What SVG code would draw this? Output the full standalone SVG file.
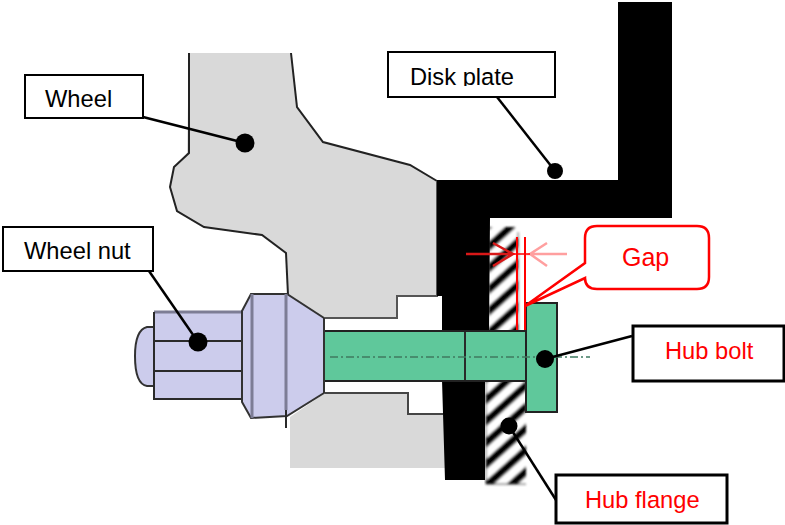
<svg xmlns="http://www.w3.org/2000/svg" width="785" height="525" viewBox="0 0 785 525">
<style>
.box{fill:#fff;stroke:#000;stroke-width:2}
.boxb{fill:#fff;stroke:#000;stroke-width:3}
.t{font-family:"Liberation Sans",Arial,sans-serif;font-size:23.7px;fill:#000}
.r{fill:#f00}
.wh{fill:#d9d9d9;stroke:none}
.ol{fill:none;stroke:#222;stroke-width:2}
.nut{fill:#ccccec;stroke:#333;stroke-width:2}
.g{stroke:#7d7d95;stroke-width:3;fill:none}
.ln{stroke:#2a2a2a;stroke-width:2;fill:none}
.bolt{fill:#5fc89b;stroke:#222;stroke-width:2}
.lead{fill:none;stroke:#000;stroke-width:2.5}
.dot{fill:#000}
</style>
<defs>
<pattern id="hatch" width="16" height="16" patternUnits="userSpaceOnUse" patternTransform="rotate(-42 500 265)">
<rect width="16" height="16" fill="#fff"/>
<rect width="16" height="7.5" fill="#000"/>
</pattern>
<filter id="soft" x="-5%" y="-5%" width="110%" height="110%"><feGaussianBlur stdDeviation="0.5"/></filter>
<filter id="softer" x="-5%" y="-5%" width="110%" height="110%"><feGaussianBlur stdDeviation="0.9"/></filter>
<clipPath id="diskclip"><rect x="400" y="55" width="150" height="31"/></clipPath>
</defs>

<g id="wheel" filter="url(#soft)">
<path class="wh" d="M189,53H291L297,107L323,142L410,165L437,181V296H397V318H325L288,295L286,253L262,235L204,227L177,211L170,187L174,167L187,153Z"/>
<path class="ol" d="M189,53V153L174,167L170,187L177,211L204,227L262,235L286,253L288,295"/>
<path class="ol" d="M291,53L297,107L323,142L410,165L437,181"/>
<path class="wh" d="M325,393H408V414H445V468H290V417Z"/>
<path d="M437,181V296H397V318H325" fill="none" stroke="#555" stroke-width="2"/>
<path d="M325,393H408V414H443" fill="none" stroke="#444" stroke-width="2"/>
</g>

<g id="hub-flange" filter="url(#softer)">
<path d="M489,227H515L518,232V332H489Z" fill="url(#hatch)"/>
<path d="M486,380H526V484H486Z" fill="url(#hatch)"/>
<path d="M518,232V332M486,380V484H526" fill="none" stroke="#333" stroke-width="1"/>
</g>

<g id="disk-plate" filter="url(#soft)">
<path d="M437,180H618V2H672V218H490L489,332H485V480H445L442,380V296H437Z" fill="#000"/>
</g>

<g id="hub-bolt" filter="url(#soft)">
<rect class="bolt" x="324" y="331" width="203" height="50"/>
<rect class="bolt" x="526" y="303" width="31" height="109"/>
<path class="ln" d="M465,332V380"/>
<path d="M330,357H590" stroke="#3f7a60" stroke-width="1.5" stroke-dasharray="8 3 2 3" fill="none"/>
</g>

<g id="wheel-nut" filter="url(#soft)">
<path class="nut" d="M154,327H147Q135,330 135,356Q135,384 147,386H154Z"/>
<rect x="154" y="312" width="88" height="87" fill="#ccccec"/>
<path class="g" d="M154,312H242"/>
<path class="ln" d="M154,312V399H242V312M154,341H242M154,371H242"/>
<path class="nut" d="M242,311L251,294H287L324,318V393L287,416L251,418L242,402Z"/>
<path class="g" d="M252,294V418M286,294V410"/>
<path class="ln" d="M286,410V428"/>
</g>

<g id="gap-marker">
<path d="M517,237V330M525,237V330" fill="none" stroke="#f00" stroke-width="2"/>
<path d="M466,254H513M493,243L513,254L493,266" fill="none" stroke="#d81818" stroke-width="2.5"/>
<path d="M567,254H530L547,243M530,254L547,266" fill="none" stroke="#ff9f9f" stroke-width="2.5"/>
<path d="M513,254H530" fill="none" stroke="#f00" stroke-width="1.5"/>
<path d="M597,226H697Q709,226 709,238V277Q709,289 697,289H597Q585,289 585,278L525,306L585,263V238Q585,226 597,226Z" fill="#fff" stroke="#f00" stroke-width="2.5"/>
<text class="t r" x="622" y="266" style="font-size:25px">Gap</text>
</g>

<g id="connectors">
<path class="lead" d="M143,117L245,143" stroke-width="2"/>
<path class="lead" d="M149,271L198,342"/>
<path class="lead" d="M497,97L555,171"/>
<path class="lead" d="M632,336L545,359"/>
<path class="lead" d="M556,500L509,426"/>
<circle class="dot" cx="245" cy="143" r="9.5"/>
<circle class="dot" cx="198" cy="342" r="9.5"/>
<circle class="dot" cx="555" cy="171" r="8"/>
<circle class="dot" cx="545" cy="359" r="9"/>
<circle class="dot" cx="509" cy="426" r="8.5"/>
</g>

<g id="label-wheel">
<rect class="box" x="25" y="75" width="118" height="43"/>
<text class="t" x="45" y="107">Wheel</text>
</g>
<g id="label-wheel-nut">
<rect class="box" x="3" y="227" width="150" height="44"/>
<text class="t" x="24" y="259">Wheel nut</text>
</g>
<g id="label-disk-plate">
<rect class="box" x="388" y="52" width="167" height="45"/>
<text class="t" x="410" y="85" clip-path="url(#diskclip)">Disk plate</text>
</g>
<g id="label-hub-bolt">
<rect class="boxb" x="633" y="326" width="151" height="55"/>
<text class="t r" x="665" y="359">Hub bolt</text>
</g>
<g id="label-hub-flange">
<rect class="boxb" x="556" y="475" width="171" height="48"/>
<text class="t r" x="585" y="508">Hub flange</text>
</g>
</svg>
